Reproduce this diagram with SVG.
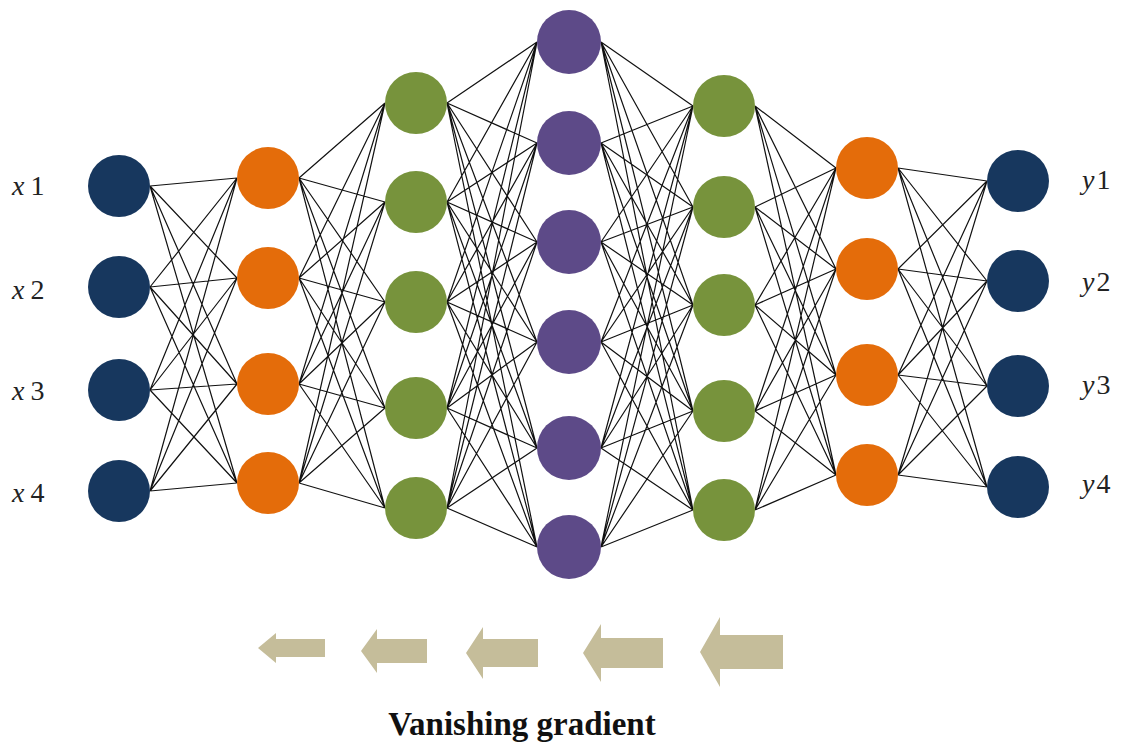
<svg xmlns="http://www.w3.org/2000/svg" width="1124" height="749" viewBox="0 0 1124 749">
<style>
.navy{fill:#17375e}
.orange{fill:#e46c0a}
.green{fill:#77933c}
.purple{fill:#5d4a88}
.conn{stroke:#111;stroke-width:1.2;fill:none}
.lbl{font-family:"Liberation Serif",serif;font-size:28px;fill:#222}
.arrow{fill:#c5bd9a}
.title{font-family:"Liberation Serif",serif;font-size:33px;font-weight:bold;fill:#111}
</style>
<rect width="1124" height="749" fill="#ffffff"/>
<g id="connectors" class="conn">
<path d="M150 186L237 178M150 186L237 278M150 186L237 384M150 186L237 483M150 287L237 178M150 287L237 278M150 287L237 384M150 287L237 483M150 390L237 178M150 390L237 278M150 390L237 384M150 390L237 483M150 491L237 178M150 491L237 278M150 491L237 384M150 491L237 483"/>
<path d="M299 178L385 103M299 178L385 202M299 178L385 302M299 178L385 408M299 178L385 508M299 278L385 103M299 278L385 202M299 278L385 302M299 278L385 408M299 278L385 508M299 384L385 103M299 384L385 202M299 384L385 302M299 384L385 408M299 384L385 508M299 483L385 103M299 483L385 202M299 483L385 302M299 483L385 408M299 483L385 508"/>
<path d="M447 103L537 42M447 103L537 143M447 103L537 242M447 103L537 342M447 103L537 448M447 103L537 547M447 202L537 42M447 202L537 143M447 202L537 242M447 202L537 342M447 202L537 448M447 202L537 547M447 302L537 42M447 302L537 143M447 302L537 242M447 302L537 342M447 302L537 448M447 302L537 547M447 408L537 42M447 408L537 143M447 408L537 242M447 408L537 342M447 408L537 448M447 408L537 547M447 508L537 42M447 508L537 143M447 508L537 242M447 508L537 342M447 508L537 448M447 508L537 547"/>
<path d="M601 42L693 106M601 42L693 207M601 42L693 305M601 42L693 411M601 42L693 510M601 143L693 106M601 143L693 207M601 143L693 305M601 143L693 411M601 143L693 510M601 242L693 106M601 242L693 207M601 242L693 305M601 242L693 411M601 242L693 510M601 342L693 106M601 342L693 207M601 342L693 305M601 342L693 411M601 342L693 510M601 448L693 106M601 448L693 207M601 448L693 305M601 448L693 411M601 448L693 510M601 547L693 106M601 547L693 207M601 547L693 305M601 547L693 411M601 547L693 510"/>
<path d="M755 106L836 168M755 106L836 269M755 106L836 375M755 106L836 475M755 207L836 168M755 207L836 269M755 207L836 375M755 207L836 475M755 305L836 168M755 305L836 269M755 305L836 375M755 305L836 475M755 411L836 168M755 411L836 269M755 411L836 375M755 411L836 475M755 510L836 168M755 510L836 269M755 510L836 375M755 510L836 475"/>
<path d="M898 168L987 181M898 168L987 281M898 168L987 386M898 168L987 487M898 269L987 181M898 269L987 281M898 269L987 386M898 269L987 487M898 375L987 181M898 375L987 281M898 375L987 386M898 375L987 487M898 475L987 181M898 475L987 281M898 475L987 386M898 475L987 487"/>
</g>
<g id="input-layer">
<circle id="in1" class="navy" cx="119" cy="186" r="31"/>
<circle id="in2" class="navy" cx="119" cy="287" r="31"/>
<circle id="in3" class="navy" cx="119" cy="390" r="31"/>
<circle id="in4" class="navy" cx="119" cy="491" r="31"/>
</g>
<g id="hidden1">
<circle id="h1a" class="orange" cx="268" cy="178" r="31"/>
<circle id="h1b" class="orange" cx="268" cy="278" r="31"/>
<circle id="h1c" class="orange" cx="268" cy="384" r="31"/>
<circle id="h1d" class="orange" cx="268" cy="483" r="31"/>
</g>
<g id="hidden2">
<circle id="h2a" class="green" cx="416" cy="103" r="31"/>
<circle id="h2b" class="green" cx="416" cy="202" r="31"/>
<circle id="h2c" class="green" cx="416" cy="302" r="31"/>
<circle id="h2d" class="green" cx="416" cy="408" r="31"/>
<circle id="h2e" class="green" cx="416" cy="508" r="31"/>
</g>
<g id="hidden3">
<circle id="h3a" class="purple" cx="569" cy="42" r="32"/>
<circle id="h3b" class="purple" cx="569" cy="143" r="32"/>
<circle id="h3c" class="purple" cx="569" cy="242" r="32"/>
<circle id="h3d" class="purple" cx="569" cy="342" r="32"/>
<circle id="h3e" class="purple" cx="569" cy="448" r="32"/>
<circle id="h3f" class="purple" cx="569" cy="547" r="32"/>
</g>
<g id="hidden4">
<circle id="h4a" class="green" cx="724" cy="106" r="31"/>
<circle id="h4b" class="green" cx="724" cy="207" r="31"/>
<circle id="h4c" class="green" cx="724" cy="305" r="31"/>
<circle id="h4d" class="green" cx="724" cy="411" r="31"/>
<circle id="h4e" class="green" cx="724" cy="510" r="31"/>
</g>
<g id="hidden5">
<circle id="h5a" class="orange" cx="867" cy="168" r="31"/>
<circle id="h5b" class="orange" cx="867" cy="269" r="31"/>
<circle id="h5c" class="orange" cx="867" cy="375" r="31"/>
<circle id="h5d" class="orange" cx="867" cy="475" r="31"/>
</g>
<g id="output-layer">
<circle id="out1" class="navy" cx="1018" cy="181" r="31"/>
<circle id="out2" class="navy" cx="1018" cy="281" r="31"/>
<circle id="out3" class="navy" cx="1018" cy="386" r="31"/>
<circle id="out4" class="navy" cx="1018" cy="487" r="31"/>
</g>
<g id="input-labels" class="lbl">
<text x="12" y="195"><tspan font-style="italic">x</tspan><tspan dx="6">1</tspan></text>
<text x="12" y="299"><tspan font-style="italic">x</tspan><tspan dx="6">2</tspan></text>
<text x="12" y="400"><tspan font-style="italic">x</tspan><tspan dx="6">3</tspan></text>
<text x="12" y="502"><tspan font-style="italic">x</tspan><tspan dx="6">4</tspan></text>
</g>
<g id="output-labels" class="lbl">
<text x="1082" y="189"><tspan font-style="italic">y</tspan><tspan dx="2">1</tspan></text>
<text x="1082" y="291"><tspan font-style="italic">y</tspan><tspan dx="2">2</tspan></text>
<text x="1082" y="394"><tspan font-style="italic">y</tspan><tspan dx="2">3</tspan></text>
<text x="1082" y="493"><tspan font-style="italic">y</tspan><tspan dx="2">4</tspan></text>
</g>
<g id="gradient-arrows" class="arrow">
<polygon points="258,648 276,633 276,639 325,639 325,657 276,657 276,663"/>
<polygon points="361,651 377,629 377,639 427,639 427,663 377,663 377,673"/>
<polygon points="466,653 483,627 483,639 538,639 538,667 483,667 483,679"/>
<polygon points="583,653 601,624 601,638 663,638 663,668 601,668 601,682"/>
<polygon points="700,652 720,617 720,635 783,635 783,669 720,669 720,687"/>
</g>
<text class="title" x="522" y="735" text-anchor="middle">Vanishing gradient</text>
</svg>
